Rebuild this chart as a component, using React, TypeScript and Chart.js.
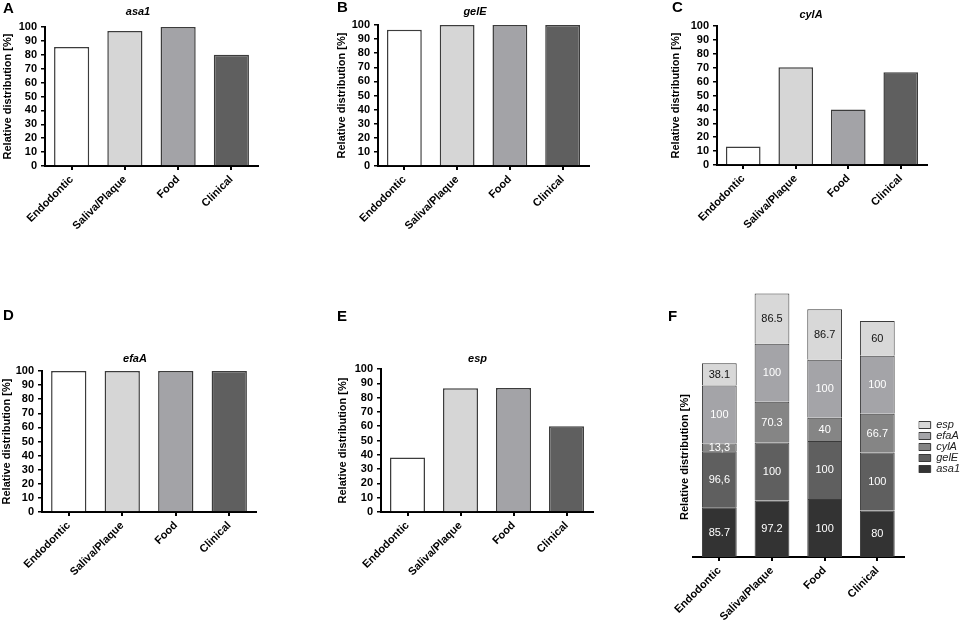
import React, { useEffect, useRef } from "react";
import { Chart, registerables } from "chart.js";

Chart.register(...registerables);

// ---------- data ----------
const categories = ["Endodontic", "Saliva/Plaque", "Food", "Clinical"];
const asa1 = [85.7, 97.2, 100, 80];
const gelE = [96.6, 100, 100, 100];
const cylA = [13.3, 70.3, 40, 66.7];
const efaA = [100, 100, 100, 100];
const esp = [38.1, 86.5, 86.7, 60];

// labels printed inside the stacked bars of panel F
const asa1Text = ["85.7", "97.2", "100", "80"];
const gelEText = ["96,6", "100", "100", "100"];
const cylAText = ["13,3", "70.3", "40", "66.7"];
const efaAText = ["100", "100", "100", "100"];
const espText = ["38.1", "86.5", "86.7", "60"];

const yTickMin = 0;
const yTickMax = 100;
const yTickStep = 10;

// ---------- styles ----------
const FAMILY = "'Liberation Sans', Arial, Helvetica, sans-serif";
const categoryColors = ["#ffffff", "#d6d6d6", "#a3a3a7", "#5f5f5f"];
const seriesColors: Record<string, string> = {
  asa1: "#333333",
  gelE: "#5f5f5f",
  cylA: "#858585",
  efaA: "#a4a4a8",
  esp: "#d8d8d8",
};
const seriesTextColors: Record<string, string> = {
  asa1: "#ffffff",
  gelE: "#ffffff",
  cylA: "#ffffff",
  efaA: "#ffffff",
  esp: "#111111",
};
const Y_TITLE = "Relative distribution [%]";

type TextItem = {
  label: string;
  x: number;
  y: number;
  fontSpec: string;
  color?: string;
  align?: CanvasTextAlign;
  rotation?: number;
};

function makeTextPlugin(id: string, items: TextItem[]) {
  return {
    id,
    afterDraw(chart: any) {
      const ctx = chart.ctx;
      for (const t of items) {
        ctx.save();
        ctx.font = t.fontSpec;
        ctx.fillStyle = t.color || "#000";
        ctx.textAlign = t.align || "center";
        ctx.textBaseline = "middle";
        ctx.translate(t.x, t.y);
        if (t.rotation) ctx.rotate(t.rotation);
        ctx.fillText(t.label, 0, 0);
        ctx.restore();
      }
    },
  };
}

const stackLabelPlugin = {
  id: "stackLabels",
  afterDatasetsDraw(chart: any) {
    const ctx = chart.ctx;
    chart.data.datasets.forEach((ds: any, i: number) => {
      const meta = chart.getDatasetMeta(i);
      meta.data.forEach((bar: any, j: number) => {
        const p = bar.getProps(["x", "y", "base"], true);
        ctx.save();
        ctx.font = `11px ${FAMILY}`;
        ctx.fillStyle = ds.textColor;
        ctx.textAlign = "center";
        ctx.textBaseline = "middle";
        ctx.fillText(ds.valueText[j], p.x, (p.y + p.base) / 2 + 0.5);
        ctx.restore();
      });
    });
  },
};

const singlePanels = [
  { letter: "A", title: "asa1", series: asa1, x: 0, y: 0, w: 320, h: 280, area: { l: 45, t: 27, r: 258, b: 166 }, titleAt: [138, 12], letterAt: [3, 8.5], yTitlePad: 1.2 },
  { letter: "B", title: "gelE", series: gelE, x: 320, y: 0, w: 320, h: 280, area: { l: 58, t: 25, r: 269, b: 166 }, titleAt: [155, 12], letterAt: [17, 8], yTitlePad: 15 },
  { letter: "C", title: "cylA", series: cylA, x: 640, y: 0, w: 324, h: 280, area: { l: 77, t: 26, r: 287, b: 165 }, titleAt: [171, 15], letterAt: [32, 8], yTitlePad: 29.4 },
  { letter: "D", title: "efaA", series: efaA, x: 0, y: 280, w: 320, h: 340, area: { l: 42, t: 91, r: 256, b: 232 }, titleAt: [135, 78.5], letterAt: [3, 35.5], yTitlePad: 0 },
  { letter: "E", title: "esp", series: esp, x: 330, y: 280, w: 310, h: 340, area: { l: 51, t: 89, r: 263, b: 232 }, titleAt: [147.5, 79], letterAt: [7, 36.5], yTitlePad: 6.7 },
];

const xAxisCommon = (heightFn: () => number) => ({
  grid: {
    display: true,
    drawOnChartArea: false,
    drawTicks: true,
    tickLength: 4,
    color: "#000",
    lineWidth: 2,
    offset: false,
  },
  border: { display: true, color: "#000", width: 2 },
  ticks: {
    color: "#000",
    font: { family: FAMILY, size: 11, weight: "bold" },
    maxRotation: 45,
    minRotation: 45,
    padding: 3,
    autoSkip: false,
  },
  afterFit: (s: any) => {
    s.height = heightFn();
  },
});

function buildSingle(p: any) {
  const texts: TextItem[] = [
    { label: p.title, x: p.titleAt[0], y: p.titleAt[1], fontSpec: `italic bold 11px ${FAMILY}` },
    { label: p.letter, x: p.letterAt[0], y: p.letterAt[1], fontSpec: `bold 15px ${FAMILY}`, align: "left" },
  ];
  return {
    type: "bar",
    data: {
      labels: categories,
      datasets: [
        {
          label: p.title,
          data: p.series,
          backgroundColor: categoryColors,
          borderColor: "#3c3c3c",
          borderWidth: 1.5,
          barPercentage: 0.66,
          categoryPercentage: 1,
        },
      ],
    },
    options: {
      responsive: false,
      animation: false,
      layout: { padding: { left: 0, top: p.area.t, right: p.w - p.area.r, bottom: 0 } },
      plugins: { legend: { display: false }, tooltip: { enabled: false }, title: { display: false } },
      scales: {
        x: xAxisCommon(() => p.h - p.area.b),
        y: {
          min: yTickMin,
          max: yTickMax,
          ticks: {
            stepSize: yTickStep,
            autoSkip: false,
            color: "#000",
            font: { family: FAMILY, size: 11, weight: "bold" },
            padding: 4,
          },
          grid: { display: true, drawOnChartArea: false, drawTicks: true, tickLength: 4, color: "#000", lineWidth: 1.5 },
          border: { display: true, color: "#000", width: 2 },
          title: {
            display: true,
            text: Y_TITLE,
            color: "#000",
            font: { family: FAMILY, size: 11, weight: "bold" },
            padding: { top: p.yTitlePad, bottom: 0 },
          },
          afterFit: (s: any) => {
            s.width = p.area.l;
          },
        },
      },
    },
    plugins: [makeTextPlugin("texts" + p.letter, texts)],
  };
}

const stackPanel = { letter: "F", x: 640, y: 280, w: 330, h: 340, area: { l: 53, t: 10, r: 265, b: 277 }, legendTop: 139.5, letterAt: [28, 36.5], yTitleAt: [45, 177] };
const stackMax = 460;

function buildStack() {
  const p = stackPanel;
  const series = [
    { name: "asa1", data: asa1, text: asa1Text },
    { name: "gelE", data: gelE, text: gelEText },
    { name: "cylA", data: cylA, text: cylAText },
    { name: "efaA", data: efaA, text: efaAText },
    { name: "esp", data: esp, text: espText },
  ];
  const texts: TextItem[] = [
    { label: p.letter, x: p.letterAt[0], y: p.letterAt[1], fontSpec: `bold 15px ${FAMILY}`, align: "left" },
    { label: Y_TITLE, x: p.yTitleAt[0], y: p.yTitleAt[1], fontSpec: `bold 11px ${FAMILY}`, rotation: -Math.PI / 2 },
  ];
  return {
    type: "bar",
    data: {
      labels: categories,
      datasets: series.map((s) => ({
        label: s.name,
        data: s.data,
        valueText: s.text,
        textColor: seriesTextColors[s.name],
        backgroundColor: seriesColors[s.name],
        borderColor: "#3a3a3a",
        borderWidth: 1,
        barPercentage: 0.66,
        categoryPercentage: 1,
      })),
    },
    options: {
      responsive: false,
      animation: false,
      layout: { padding: { left: p.area.l, top: p.area.t, right: 0, bottom: 0 } },
      plugins: {
        tooltip: { enabled: false },
        title: { display: false },
        legend: {
          display: true,
          position: "right",
          align: "start",
          reverse: true,
          title: {
            display: true,
            text: "",
            font: { family: FAMILY, size: 10 },
            padding: { top: p.legendTop - p.area.t - 12, bottom: 0 },
          },
          labels: {
            boxWidth: 12,
            boxHeight: 7,
            padding: 0,
            color: "#222",
            font: { family: FAMILY, size: 11, style: "italic" },
          },
        },
      },
      scales: {
        x: { ...xAxisCommon(() => p.h - p.area.b), stacked: true },
        y: { stacked: true, min: 0, max: stackMax, display: false },
        gap: {
          type: "linear",
          position: "right",
          display: true,
          ticks: { display: false },
          grid: { display: false },
          border: { display: false },
          afterFit: (s: any) => {
            s.width = 15;
          },
        },
      },
    },
    plugins: [stackLabelPlugin, makeTextPlugin("textsF", texts)],
  };
}

function ChartCanvas({ x, y, w, h, build }: { x: number; y: number; w: number; h: number; build: () => any }) {
  const ref = useRef<HTMLCanvasElement>(null);
  useEffect(() => {
    const chart = new Chart(ref.current as HTMLCanvasElement, build());
    return () => chart.destroy();
  }, []);
  return (
    <canvas
      ref={ref}
      width={w}
      height={h}
      style={{ position: "absolute", left: x, top: y, width: w, height: h }}
    />
  );
}

export default function App() {
  return (
    <div
      style={{
        position: "absolute",
        left: 0,
        top: 0,
        width: 964,
        height: 620,
        background: "#ffffff",
        overflow: "hidden",
      }}
    >
      {singlePanels.map((p) => (
        <ChartCanvas key={p.letter} x={p.x} y={p.y} w={p.w} h={p.h} build={() => buildSingle(p)} />
      ))}
      <ChartCanvas x={stackPanel.x} y={stackPanel.y} w={stackPanel.w} h={stackPanel.h} build={buildStack} />
    </div>
  );
}
